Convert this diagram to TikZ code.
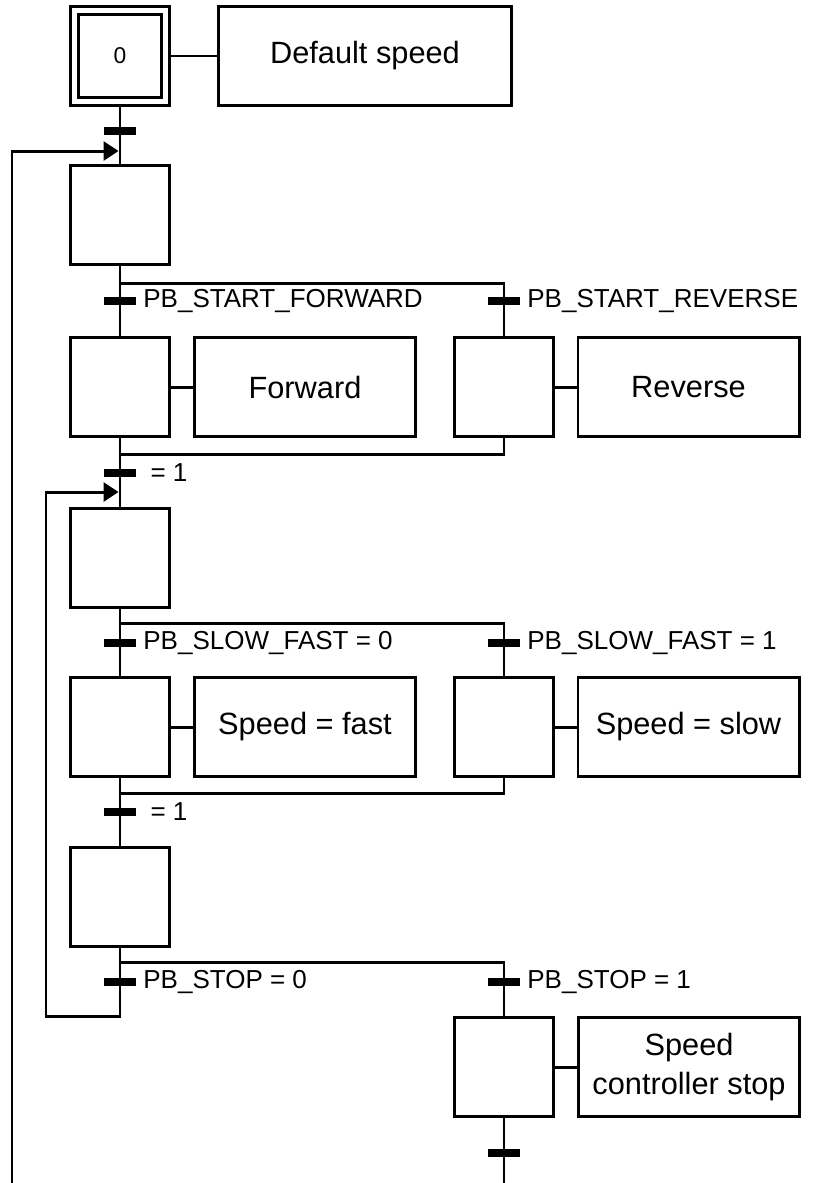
\documentclass[tikz,border=0pt]{standalone}
\usepackage{fontspec}
\setmainfont{Liberation Sans}
\usetikzlibrary{arrows.meta}

\begin{document}
\begin{tikzpicture}[
  line width=1.7pt,
  stp/.style={draw, rectangle, minimum width=1.98cm, minimum height=1.98cm, inner sep=0pt},
  init/.style={draw, double, double distance=1mm, rectangle, minimum size=1.82cm, outer sep=1.1mm, inner sep=0pt, font=\fontsize{13}{15}\selectfont},
  act/.style={draw, rectangle, minimum width=4.42cm, minimum height=1.98cm, align=center, font=\fontsize{17.5}{22}\selectfont},
  tr/.style={fill, rectangle, minimum width=0.64cm, minimum height=0.17cm, inner sep=0pt, outer sep=0pt, label distance=0.3mm},
  lbl/.style={font=\fontsize{14.8}{17}\selectfont},
  arr/.style={-{Triangle[length=3mm,width=3.8mm]}}
]
\useasboundingbox (0,0) rectangle (16.34,-23.66);
\node[init] (s0) at (2.40,-1.12) {0};
\node[act, minimum width=5.86cm] (a0) at (7.30,-1.12) {Default speed};
\node[tr] (t0) at (2.40,-2.62) {};
\node[stp] (s1) at (2.40,-4.30) {};
\node[tr, label={[lbl]right:PB\_START\_FORWARD}] (t1a) at (2.40,-6.02) {};
\node[tr, label={[lbl]right:PB\_START\_REVERSE}] (t1b) at (10.08,-6.02) {};
\node[stp] (s2a) at (2.40,-7.74) {};
\node[act] (a2a) at (6.10,-7.74) {Forward};
\node[stp] (s2b) at (10.08,-7.74) {};
\node[act] (a2b) at (13.77,-7.74) {Reverse};
\node[tr, label={[lbl]right:\ = 1}] (t2) at (2.40,-9.46) {};
\node[stp] (s3) at (2.40,-11.16) {};
\node[tr, label={[lbl]right:PB\_SLOW\_FAST = 0}] (t3a) at (2.40,-12.86) {};
\node[tr, label={[lbl]right:PB\_SLOW\_FAST = 1}] (t3b) at (10.08,-12.86) {};
\node[stp] (s4a) at (2.40,-14.54) {};
\node[act] (a4a) at (6.10,-14.54) {Speed = fast};
\node[stp] (s4b) at (10.08,-14.54) {};
\node[act] (a4b) at (13.77,-14.54) {Speed = slow};
\node[tr, label={[lbl]right:\ = 1}] (t4) at (2.40,-16.24) {};
\node[stp] (s5) at (2.40,-17.94) {};
\node[tr, label={[lbl]right:PB\_STOP = 0}] (t5a) at (2.40,-19.64) {};
\node[tr, label={[lbl]right:PB\_STOP = 1}] (t5b) at (10.08,-19.64) {};
\node[stp] (s6) at (10.08,-21.34) {};
\node[act] (a6) at (13.78,-21.34) {Speed\\controller stop};
\node[tr] (t6) at (10.08,-23.06) {};
\coordinate (in0) at (2.37,-3.02);
\coordinate (bot0) at (0.24,-23.66);
\coordinate (br1) at (2.40,-5.66);
\coordinate (j1) at (2.40,-9.08);
\coordinate (in1) at (2.37,-9.84);
\coordinate (br2) at (2.40,-12.46);
\coordinate (j2) at (2.40,-15.86);
\coordinate (br3) at (2.40,-19.24);
\coordinate (lp1) at (0.92,-20.32);
\coordinate (end6) at (10.08,-23.66);
\draw (s0) -- (a0);
\draw (s0) -- (t0) -- (s1);
\draw[arr] (bot0) |- (in0);
\draw (s1) -- (t1a) -- (s2a);
\draw (br1) -| (t1b.center) -- (s2b);
\draw (s2a) -- (a2a);
\draw (s2b) -- (a2b);
\draw (s2a) -- (t2) -- (s3);
\draw (s2b) |- (j1);
\draw (s3) -- (t3a) -- (s4a);
\draw (br2) -| (t3b.center) -- (s4b);
\draw (s4a) -- (a4a);
\draw (s4b) -- (a4b);
\draw (s4a) -- (t4) -- (s5);
\draw (s4b) |- (j2);
\draw (s5) -- (t5a);
\draw (br3) -| (t5b.center) -- (s6);
\draw[arr] (t5a) |- (lp1) |- (in1);
\draw (s6) -- (a6);
\draw (s6) -- (t6) -- (end6);
\end{tikzpicture}
\end{document}
